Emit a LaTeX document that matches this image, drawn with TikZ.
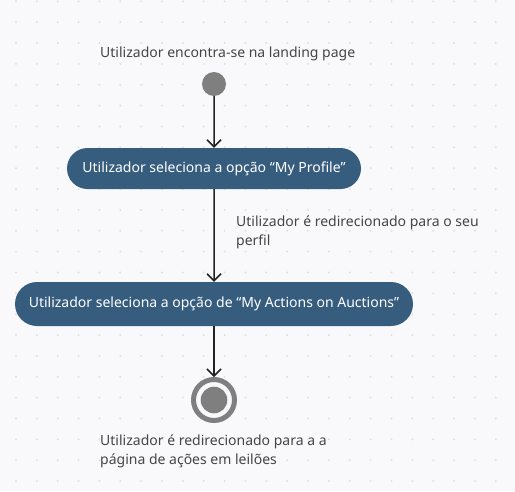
\documentclass[tikz,border=0pt]{standalone}
\usepackage{fontspec}
\setmainfont{Noto Sans}
\usetikzlibrary{arrows.meta,shapes.misc}
\definecolor{canvas}{HTML}{F9F9FB}
\definecolor{griddot}{HTML}{E0E0E4}
\definecolor{actfill}{HTML}{365C7E}
\definecolor{pseudo}{HTML}{7F7F7F}
\definecolor{labeltext}{HTML}{454545}
\definecolor{flowline}{HTML}{222222}
\begin{document}
\begin{tikzpicture}[x=1pt,y=-1pt,
  action/.style={rounded rectangle, fill=actfill, text=white,
    font=\fontsize{14}{16}\selectfont, inner sep=0pt},
  flow/.style={draw=flowline, line width=1.5pt,
    -{Straight Barb[length=7pt,width=14pt,line width=1.5pt]}},
  note/.style={text=labeltext, font=\fontsize{14}{18.7}\selectfont,
    align=left, inner sep=0pt},
  startdot/.style={circle, fill=pseudo, minimum size=24pt, inner sep=0pt},
  enddot/.style={circle, draw=pseudo, line width=5pt, fill=canvas,
    minimum size=41pt, inner sep=0pt,
    path picture={\fill[pseudo] (path picture bounding box.center) circle (13.3pt);}}]
% canvas and dotted grid
\fill[canvas] (0,0) rectangle (515,491);
\useasboundingbox (0,0) rectangle (515,491);
\foreach \i in {0,...,23}{
  \foreach \j in {0,...,23}{
    \fill[griddot] ({16+20.86*\i},{1.3+20.86*\j}) circle (1.1pt);
  }
}
% activity nodes
\node[startdot] (start) at (214,84) {};
\node[action, minimum width=294pt, minimum height=41pt] (profile) at (214,168.5)
  {Utilizador seleciona a opção “My Profile”};
\node[action, minimum width=398pt, minimum height=44pt] (auctions) at (214,304)
  {Utilizador seleciona a opção de “My Actions on Auctions”};
\node[enddot] (finish) at (214,400) {};
% transitions
\draw[flow] (start) -- (profile);
\draw[flow] (profile) -- (auctions);
\draw[flow] (auctions) -- (finish);
% annotations (multi-line notes are anchored on the baseline of their last line)
\node[note, anchor=base west] (startnote) at (100,57.5)
  {Utilizador encontra-se na landing page};
\node[note, anchor=base west] (profilenote) at (236,245)
  {Utilizador é redirecionado para o seu\\perfil};
\node[note, anchor=base west] (finishnote) at (100,464.5)
  {Utilizador é redirecionado para a a\\página de ações em leilões};
\end{tikzpicture}
\end{document}
